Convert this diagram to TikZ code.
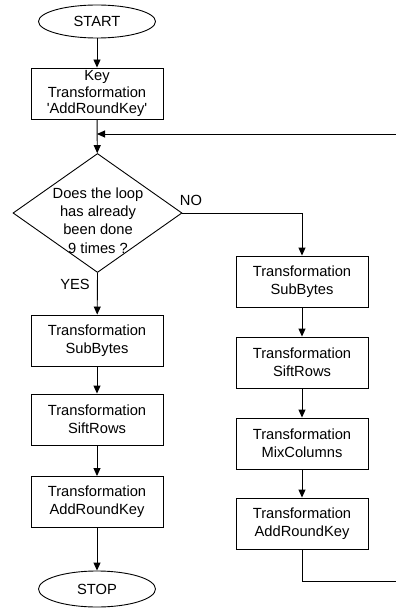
\documentclass[tikz,border=0pt]{standalone}
\usepackage{fontspec}
\setmainfont{Liberation Sans}
\usetikzlibrary{shapes.geometric,arrows.meta}

\begin{document}
\begin{tikzpicture}[x=1bp,y=-1bp,line width=0.9bp,
  font=\fontsize{14.7bp}{18.3bp}\selectfont,
  term/.style={draw,ellipse,minimum width=117bp,minimum height=33bp,inner sep=0pt},
  block/.style={draw,rectangle,minimum width=132bp,minimum height=51bp,inner sep=0pt,align=center},
  decision/.style={draw,diamond,aspect=1.42,minimum width=169bp,minimum height=119bp,inner sep=0pt},
  line/.style={-{Triangle[length=8bp,width=7bp]}}]

\useasboundingbox (0,0) rectangle (395,609);

\node[term] (start) at (97,21.5) {START};
\node[block,font=\fontsize{14.7bp}{16.5bp}\selectfont] (key) at (97,93.5) {Key\\Transformation\\\textquotesingle AddRoundKey\textquotesingle};
\node[decision] (dia) at (97.5,213) {};
\node[align=center] (qst) at (98,220.5) {Does the loop\\has already\\been done\\9 times ?};
\node (no) at (191,200) {NO};
\node (yes) at (75,284) {YES};

\node[block] (lb1) at (97,340.5) {Transformation\\SubBytes};
\node[block] (lb2) at (97,419.5) {Transformation\\SiftRows};
\node[block] (lb3) at (97,502) {Transformation\\AddRoundKey};
\node[term,minimum height=36bp] (stop) at (97,589) {STOP};

\node[block] (rb1) at (302,281.5) {Transformation\\SubBytes};
\node[block] (rb2) at (302,362.5) {Transformation\\SiftRows};
\node[block] (rb3) at (302,443.5) {Transformation\\MixColumns};
\node[block] (rb4) at (302,523.5) {Transformation\\AddRoundKey};

\coordinate (mrg) at (97,134);
\coordinate (bend) at (400,581);

\draw[line] (start) -- (key);
\draw[line] (key) -- (dia);
\draw[line] (dia.south) -- (lb1);
\draw[line] (lb1) -- (lb2);
\draw[line] (lb2) -- (lb3);
\draw[line] (lb3) -- (stop);

\draw[line] (dia.east) -| (rb1.north);
\draw[line] (rb1) -- (rb2);
\draw[line] (rb2) -- (rb3);
\draw[line] (rb3) -- (rb4);
\draw[line] (rb4.south) |- (bend) |- (mrg);
\end{tikzpicture}
\end{document}
